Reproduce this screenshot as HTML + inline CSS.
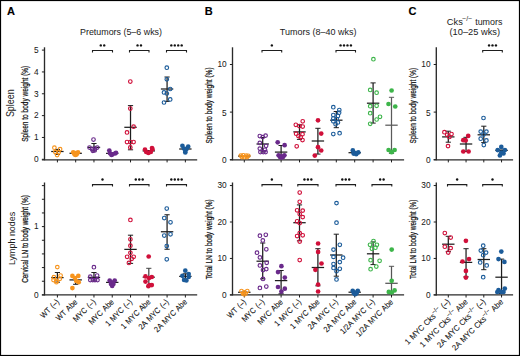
<!DOCTYPE html>
<html><head><meta charset="utf-8"><style>
html,body{margin:0;padding:0;background:#fff;width:520px;height:356px;overflow:hidden}
svg{display:block}
text{font-family:"Liberation Sans", sans-serif;stroke:#000;stroke-width:0.12px}
</style></head><body>
<svg width="520" height="356" viewBox="0 0 520 356">
<rect x="0.5" y="0.5" width="519" height="355" fill="none" stroke="#000" stroke-width="1.2"/>
<text x="7.00" y="15.00" font-size="11" text-anchor="start" font-weight="700" fill="#000" >A</text>
<text x="204.80" y="15.00" font-size="11" text-anchor="start" font-weight="700" fill="#000" >B</text>
<text x="408.50" y="15.00" font-size="11" text-anchor="start" font-weight="700" fill="#000" >C</text>
<text x="80.00" y="35.40" font-size="9.8" text-anchor="start" font-weight="400" fill="#1a1a1a" textLength="82" lengthAdjust="spacingAndGlyphs" style="stroke-width:0">Pretumors (5–6 wks)</text>
<text x="279.80" y="35.40" font-size="9.8" text-anchor="start" font-weight="400" fill="#1a1a1a" textLength="76.7" lengthAdjust="spacingAndGlyphs" style="stroke-width:0">Tumors (8–40 wks)</text>
<text x="446.80" y="24.90" font-size="9.8" text-anchor="start" font-weight="400" fill="#1a1a1a" textLength="16.0" lengthAdjust="spacingAndGlyphs" style="stroke-width:0">Cks</text>
<text x="462.20" y="21.40" font-size="6.4" text-anchor="start" font-weight="400" fill="#1a1a1a" textLength="10.0" lengthAdjust="spacingAndGlyphs" style="stroke-width:0">−/−</text>
<text x="502.40" y="24.90" font-size="9.8" text-anchor="end" font-weight="400" fill="#1a1a1a" textLength="27.2" lengthAdjust="spacingAndGlyphs" style="stroke-width:0">tumors</text>
<text x="449.50" y="35.40" font-size="9.8" text-anchor="start" font-weight="400" fill="#1a1a1a" textLength="50.5" lengthAdjust="spacingAndGlyphs" style="stroke-width:0">(10–25 wks)</text>
<text x="13.90" y="117.10" font-size="10.3" text-anchor="start" font-weight="400" fill="#1a1a1a" textLength="27.7" lengthAdjust="spacingAndGlyphs" transform="rotate(-90 13.90 117.10)" style="stroke-width:0">Spleen</text>
<text x="14.80" y="265.00" font-size="9.9" text-anchor="start" font-weight="400" fill="#1a1a1a" textLength="53.2" lengthAdjust="spacingAndGlyphs" transform="rotate(-90 14.80 265.00)" style="stroke-width:0">Lymph nodes</text>
<text x="28.20" y="141.80" font-size="8.3" text-anchor="start" font-weight="400" fill="#1a1a1a" textLength="76.1" lengthAdjust="spacingAndGlyphs" transform="rotate(-90 28.20 141.80)" style="stroke-width:0.22">Spleen to body weight (%)</text>
<text x="28.30" y="282.80" font-size="8.2" text-anchor="start" font-weight="400" fill="#1a1a1a" textLength="87.6" lengthAdjust="spacingAndGlyphs" transform="rotate(-90 28.30 282.80)" style="stroke-width:0.22">Cervical LN to body weight (%)</text>
<text x="211.60" y="143.60" font-size="8.4" text-anchor="start" font-weight="400" fill="#1a1a1a" textLength="76.2" lengthAdjust="spacingAndGlyphs" transform="rotate(-90 211.60 143.60)" style="stroke-width:0.22">Spleen to body weight (%)</text>
<text x="212.00" y="279.20" font-size="8.4" text-anchor="start" font-weight="400" fill="#1a1a1a" textLength="80" lengthAdjust="spacingAndGlyphs" transform="rotate(-90 212.00 279.20)" style="stroke-width:0.22">Total LN to body weight (%)</text>
<text x="416.00" y="143.40" font-size="8.4" text-anchor="start" font-weight="400" fill="#1a1a1a" textLength="75.5" lengthAdjust="spacingAndGlyphs" transform="rotate(-90 416.00 143.40)" style="stroke-width:0.22">Spleen to body weight (%)</text>
<text x="416.00" y="279.00" font-size="8.4" text-anchor="start" font-weight="400" fill="#1a1a1a" textLength="79.5" lengthAdjust="spacingAndGlyphs" transform="rotate(-90 416.00 279.00)" style="stroke-width:0.22">Total LN to body weight (%)</text>
<line x1="44.50" y1="47.30" x2="44.50" y2="160.30" stroke="#2a2a2a" stroke-width="1.35"/>
<line x1="41.90" y1="159.30" x2="44.50" y2="159.30" stroke="#1e1e1e" stroke-width="1"/>
<line x1="41.90" y1="137.46" x2="44.50" y2="137.46" stroke="#1e1e1e" stroke-width="1"/>
<line x1="41.90" y1="115.62" x2="44.50" y2="115.62" stroke="#1e1e1e" stroke-width="1"/>
<line x1="41.90" y1="93.78" x2="44.50" y2="93.78" stroke="#1e1e1e" stroke-width="1"/>
<line x1="41.90" y1="71.94" x2="44.50" y2="71.94" stroke="#1e1e1e" stroke-width="1"/>
<line x1="41.90" y1="50.10" x2="44.50" y2="50.10" stroke="#1e1e1e" stroke-width="1"/>
<text x="38.70" y="162.00" font-size="8.3" text-anchor="end" font-weight="400" fill="#1a1a1a" style="stroke-width:0.04">0</text>
<text x="38.70" y="140.00" font-size="8.3" text-anchor="end" font-weight="400" fill="#1a1a1a" style="stroke-width:0.04">1</text>
<text x="38.70" y="118.00" font-size="8.3" text-anchor="end" font-weight="400" fill="#1a1a1a" style="stroke-width:0.04">2</text>
<text x="38.70" y="97.00" font-size="8.3" text-anchor="end" font-weight="400" fill="#1a1a1a" style="stroke-width:0.04">3</text>
<text x="38.70" y="75.00" font-size="8.3" text-anchor="end" font-weight="400" fill="#1a1a1a" style="stroke-width:0.04">4</text>
<text x="38.70" y="53.00" font-size="8.3" text-anchor="end" font-weight="400" fill="#1a1a1a" style="stroke-width:0.04">5</text>
<line x1="41.90" y1="159.80" x2="197.20" y2="159.80" stroke="#2a2a2a" stroke-width="1.35"/>
<line x1="57.40" y1="159.80" x2="57.40" y2="162.40" stroke="#1e1e1e" stroke-width="1"/>
<line x1="75.68" y1="159.80" x2="75.68" y2="162.40" stroke="#1e1e1e" stroke-width="1"/>
<line x1="93.96" y1="159.80" x2="93.96" y2="162.40" stroke="#1e1e1e" stroke-width="1"/>
<line x1="112.24" y1="159.80" x2="112.24" y2="162.40" stroke="#1e1e1e" stroke-width="1"/>
<line x1="130.52" y1="159.80" x2="130.52" y2="162.40" stroke="#1e1e1e" stroke-width="1"/>
<line x1="148.80" y1="159.80" x2="148.80" y2="162.40" stroke="#1e1e1e" stroke-width="1"/>
<line x1="167.08" y1="159.80" x2="167.08" y2="162.40" stroke="#1e1e1e" stroke-width="1"/>
<line x1="185.36" y1="159.80" x2="185.36" y2="162.40" stroke="#1e1e1e" stroke-width="1"/>
<line x1="44.50" y1="182.50" x2="44.50" y2="295.40" stroke="#2a2a2a" stroke-width="1.35"/>
<line x1="41.90" y1="294.90" x2="44.50" y2="294.90" stroke="#1e1e1e" stroke-width="1"/>
<line x1="41.90" y1="281.24" x2="44.50" y2="281.24" stroke="#1e1e1e" stroke-width="1"/>
<line x1="41.90" y1="267.58" x2="44.50" y2="267.58" stroke="#1e1e1e" stroke-width="1"/>
<line x1="41.90" y1="253.92" x2="44.50" y2="253.92" stroke="#1e1e1e" stroke-width="1"/>
<line x1="41.90" y1="240.26" x2="44.50" y2="240.26" stroke="#1e1e1e" stroke-width="1"/>
<line x1="41.90" y1="226.60" x2="44.50" y2="226.60" stroke="#1e1e1e" stroke-width="1"/>
<line x1="41.90" y1="212.94" x2="44.50" y2="212.94" stroke="#1e1e1e" stroke-width="1"/>
<line x1="41.90" y1="199.28" x2="44.50" y2="199.28" stroke="#1e1e1e" stroke-width="1"/>
<line x1="41.90" y1="185.62" x2="44.50" y2="185.62" stroke="#1e1e1e" stroke-width="1"/>
<text x="38.70" y="298.00" font-size="8.3" text-anchor="end" font-weight="400" fill="#1a1a1a" style="stroke-width:0.04">0</text>
<text x="38.70" y="229.00" font-size="8.3" text-anchor="end" font-weight="400" fill="#1a1a1a" style="stroke-width:0.04">1</text>
<line x1="41.90" y1="294.90" x2="197.20" y2="294.90" stroke="#2a2a2a" stroke-width="1.35"/>
<line x1="57.40" y1="294.90" x2="57.40" y2="297.50" stroke="#1e1e1e" stroke-width="1"/>
<line x1="75.68" y1="294.90" x2="75.68" y2="297.50" stroke="#1e1e1e" stroke-width="1"/>
<line x1="93.96" y1="294.90" x2="93.96" y2="297.50" stroke="#1e1e1e" stroke-width="1"/>
<line x1="112.24" y1="294.90" x2="112.24" y2="297.50" stroke="#1e1e1e" stroke-width="1"/>
<line x1="130.52" y1="294.90" x2="130.52" y2="297.50" stroke="#1e1e1e" stroke-width="1"/>
<line x1="148.80" y1="294.90" x2="148.80" y2="297.50" stroke="#1e1e1e" stroke-width="1"/>
<line x1="167.08" y1="294.90" x2="167.08" y2="297.50" stroke="#1e1e1e" stroke-width="1"/>
<line x1="185.36" y1="294.90" x2="185.36" y2="297.50" stroke="#1e1e1e" stroke-width="1"/>
<line x1="232.50" y1="47.30" x2="232.50" y2="160.30" stroke="#2a2a2a" stroke-width="1.35"/>
<line x1="229.90" y1="159.60" x2="232.50" y2="159.60" stroke="#1e1e1e" stroke-width="1"/>
<line x1="229.90" y1="112.10" x2="232.50" y2="112.10" stroke="#1e1e1e" stroke-width="1"/>
<line x1="229.90" y1="64.50" x2="232.50" y2="64.50" stroke="#1e1e1e" stroke-width="1"/>
<text x="226.70" y="163.00" font-size="8.3" text-anchor="end" font-weight="400" fill="#1a1a1a" style="stroke-width:0.04">0</text>
<text x="226.70" y="116.00" font-size="8.3" text-anchor="end" font-weight="400" fill="#1a1a1a" style="stroke-width:0.04">5</text>
<text x="226.70" y="67.00" font-size="8.3" text-anchor="end" font-weight="400" fill="#1a1a1a" style="stroke-width:0.04">10</text>
<line x1="229.90" y1="159.80" x2="404.10" y2="159.80" stroke="#2a2a2a" stroke-width="1.35"/>
<line x1="244.30" y1="159.80" x2="244.30" y2="162.40" stroke="#1e1e1e" stroke-width="1"/>
<line x1="262.70" y1="159.80" x2="262.70" y2="162.40" stroke="#1e1e1e" stroke-width="1"/>
<line x1="281.10" y1="159.80" x2="281.10" y2="162.40" stroke="#1e1e1e" stroke-width="1"/>
<line x1="299.50" y1="159.80" x2="299.50" y2="162.40" stroke="#1e1e1e" stroke-width="1"/>
<line x1="317.90" y1="159.80" x2="317.90" y2="162.40" stroke="#1e1e1e" stroke-width="1"/>
<line x1="336.30" y1="159.80" x2="336.30" y2="162.40" stroke="#1e1e1e" stroke-width="1"/>
<line x1="354.70" y1="159.80" x2="354.70" y2="162.40" stroke="#1e1e1e" stroke-width="1"/>
<line x1="373.10" y1="159.80" x2="373.10" y2="162.40" stroke="#1e1e1e" stroke-width="1"/>
<line x1="391.50" y1="159.80" x2="391.50" y2="162.40" stroke="#1e1e1e" stroke-width="1"/>
<line x1="232.50" y1="182.50" x2="232.50" y2="295.40" stroke="#2a2a2a" stroke-width="1.35"/>
<line x1="229.90" y1="294.90" x2="232.50" y2="294.90" stroke="#1e1e1e" stroke-width="1"/>
<line x1="229.90" y1="258.45" x2="232.50" y2="258.45" stroke="#1e1e1e" stroke-width="1"/>
<line x1="229.90" y1="222.00" x2="232.50" y2="222.00" stroke="#1e1e1e" stroke-width="1"/>
<line x1="229.90" y1="185.55" x2="232.50" y2="185.55" stroke="#1e1e1e" stroke-width="1"/>
<text x="226.70" y="298.00" font-size="8.3" text-anchor="end" font-weight="400" fill="#1a1a1a" style="stroke-width:0.04">0</text>
<text x="226.70" y="261.00" font-size="8.3" text-anchor="end" font-weight="400" fill="#1a1a1a" style="stroke-width:0.04">10</text>
<text x="226.70" y="225.00" font-size="8.3" text-anchor="end" font-weight="400" fill="#1a1a1a" style="stroke-width:0.04">20</text>
<text x="226.70" y="188.00" font-size="8.3" text-anchor="end" font-weight="400" fill="#1a1a1a" style="stroke-width:0.04">30</text>
<line x1="229.90" y1="294.90" x2="404.10" y2="294.90" stroke="#2a2a2a" stroke-width="1.35"/>
<line x1="244.30" y1="294.90" x2="244.30" y2="297.50" stroke="#1e1e1e" stroke-width="1"/>
<line x1="262.70" y1="294.90" x2="262.70" y2="297.50" stroke="#1e1e1e" stroke-width="1"/>
<line x1="281.10" y1="294.90" x2="281.10" y2="297.50" stroke="#1e1e1e" stroke-width="1"/>
<line x1="299.50" y1="294.90" x2="299.50" y2="297.50" stroke="#1e1e1e" stroke-width="1"/>
<line x1="317.90" y1="294.90" x2="317.90" y2="297.50" stroke="#1e1e1e" stroke-width="1"/>
<line x1="336.30" y1="294.90" x2="336.30" y2="297.50" stroke="#1e1e1e" stroke-width="1"/>
<line x1="354.70" y1="294.90" x2="354.70" y2="297.50" stroke="#1e1e1e" stroke-width="1"/>
<line x1="373.10" y1="294.90" x2="373.10" y2="297.50" stroke="#1e1e1e" stroke-width="1"/>
<line x1="391.50" y1="294.90" x2="391.50" y2="297.50" stroke="#1e1e1e" stroke-width="1"/>
<line x1="436.30" y1="47.30" x2="436.30" y2="160.30" stroke="#2a2a2a" stroke-width="1.35"/>
<line x1="433.70" y1="159.60" x2="436.30" y2="159.60" stroke="#1e1e1e" stroke-width="1"/>
<line x1="433.70" y1="112.10" x2="436.30" y2="112.10" stroke="#1e1e1e" stroke-width="1"/>
<line x1="433.70" y1="64.50" x2="436.30" y2="64.50" stroke="#1e1e1e" stroke-width="1"/>
<text x="430.50" y="163.00" font-size="8.3" text-anchor="end" font-weight="400" fill="#1a1a1a" style="stroke-width:0.04">0</text>
<text x="430.50" y="116.00" font-size="8.3" text-anchor="end" font-weight="400" fill="#1a1a1a" style="stroke-width:0.04">5</text>
<text x="430.50" y="67.00" font-size="8.3" text-anchor="end" font-weight="400" fill="#1a1a1a" style="stroke-width:0.04">10</text>
<line x1="433.70" y1="159.80" x2="513.10" y2="159.80" stroke="#2a2a2a" stroke-width="1.35"/>
<line x1="448.30" y1="159.80" x2="448.30" y2="162.40" stroke="#1e1e1e" stroke-width="1"/>
<line x1="466.05" y1="159.80" x2="466.05" y2="162.40" stroke="#1e1e1e" stroke-width="1"/>
<line x1="483.80" y1="159.80" x2="483.80" y2="162.40" stroke="#1e1e1e" stroke-width="1"/>
<line x1="501.55" y1="159.80" x2="501.55" y2="162.40" stroke="#1e1e1e" stroke-width="1"/>
<line x1="436.30" y1="182.50" x2="436.30" y2="295.40" stroke="#2a2a2a" stroke-width="1.35"/>
<line x1="433.70" y1="294.90" x2="436.30" y2="294.90" stroke="#1e1e1e" stroke-width="1"/>
<line x1="433.70" y1="258.45" x2="436.30" y2="258.45" stroke="#1e1e1e" stroke-width="1"/>
<line x1="433.70" y1="222.00" x2="436.30" y2="222.00" stroke="#1e1e1e" stroke-width="1"/>
<line x1="433.70" y1="185.55" x2="436.30" y2="185.55" stroke="#1e1e1e" stroke-width="1"/>
<text x="430.50" y="298.00" font-size="8.3" text-anchor="end" font-weight="400" fill="#1a1a1a" style="stroke-width:0.04">0</text>
<text x="430.50" y="261.00" font-size="8.3" text-anchor="end" font-weight="400" fill="#1a1a1a" style="stroke-width:0.04">10</text>
<text x="430.50" y="225.00" font-size="8.3" text-anchor="end" font-weight="400" fill="#1a1a1a" style="stroke-width:0.04">20</text>
<text x="430.50" y="188.00" font-size="8.3" text-anchor="end" font-weight="400" fill="#1a1a1a" style="stroke-width:0.04">30</text>
<line x1="433.70" y1="294.90" x2="513.10" y2="294.90" stroke="#2a2a2a" stroke-width="1.35"/>
<line x1="448.30" y1="294.90" x2="448.30" y2="297.50" stroke="#1e1e1e" stroke-width="1"/>
<line x1="466.05" y1="294.90" x2="466.05" y2="297.50" stroke="#1e1e1e" stroke-width="1"/>
<line x1="483.80" y1="294.90" x2="483.80" y2="297.50" stroke="#1e1e1e" stroke-width="1"/>
<line x1="501.55" y1="294.90" x2="501.55" y2="297.50" stroke="#1e1e1e" stroke-width="1"/>
<text x="59.60" y="302.50" font-size="8.1" text-anchor="end" font-weight="400" fill="#1a1a1a" textLength="22.89" lengthAdjust="spacingAndGlyphs" transform="rotate(-45 59.60 302.50)" style="stroke-width:0.1;word-spacing:0.9px">WT (–)</text>
<text x="77.88" y="302.50" font-size="8.1" text-anchor="end" font-weight="400" fill="#1a1a1a" textLength="26.67" lengthAdjust="spacingAndGlyphs" transform="rotate(-45 77.88 302.50)" style="stroke-width:0.1;word-spacing:0.9px">WT Abe</text>
<text x="96.16" y="302.50" font-size="8.1" text-anchor="end" font-weight="400" fill="#1a1a1a" textLength="28.05" lengthAdjust="spacingAndGlyphs" transform="rotate(-45 96.16 302.50)" style="stroke-width:0.1;word-spacing:0.9px">MYC (–)</text>
<text x="114.44" y="302.50" font-size="8.1" text-anchor="end" font-weight="400" fill="#1a1a1a" textLength="31.84" lengthAdjust="spacingAndGlyphs" transform="rotate(-45 114.44 302.50)" style="stroke-width:0.1;word-spacing:0.9px">MYC Abe</text>
<text x="132.72" y="302.50" font-size="8.1" text-anchor="end" font-weight="400" fill="#1a1a1a" textLength="34.34" lengthAdjust="spacingAndGlyphs" transform="rotate(-45 132.72 302.50)" style="stroke-width:0.1;word-spacing:0.9px">1 MYC (–)</text>
<text x="151.00" y="302.50" font-size="8.1" text-anchor="end" font-weight="400" fill="#1a1a1a" textLength="38.13" lengthAdjust="spacingAndGlyphs" transform="rotate(-45 151.00 302.50)" style="stroke-width:0.1;word-spacing:0.9px">1 MYC Abe</text>
<text x="169.28" y="302.50" font-size="8.1" text-anchor="end" font-weight="400" fill="#1a1a1a" textLength="38.95" lengthAdjust="spacingAndGlyphs" transform="rotate(-45 169.28 302.50)" style="stroke-width:0.1;word-spacing:0.9px">2A MYC (–)</text>
<text x="187.56" y="302.50" font-size="8.1" text-anchor="end" font-weight="400" fill="#1a1a1a" textLength="42.74" lengthAdjust="spacingAndGlyphs" transform="rotate(-45 187.56 302.50)" style="stroke-width:0.1;word-spacing:0.9px">2A MYC Abe</text>
<text x="246.50" y="302.50" font-size="8.1" text-anchor="end" font-weight="400" fill="#1a1a1a" textLength="22.89" lengthAdjust="spacingAndGlyphs" transform="rotate(-45 246.50 302.50)" style="stroke-width:0.1;word-spacing:0.9px">WT (–)</text>
<text x="264.90" y="302.50" font-size="8.1" text-anchor="end" font-weight="400" fill="#1a1a1a" textLength="28.05" lengthAdjust="spacingAndGlyphs" transform="rotate(-45 264.90 302.50)" style="stroke-width:0.1;word-spacing:0.9px">MYC (–)</text>
<text x="283.30" y="302.50" font-size="8.1" text-anchor="end" font-weight="400" fill="#1a1a1a" textLength="31.84" lengthAdjust="spacingAndGlyphs" transform="rotate(-45 283.30 302.50)" style="stroke-width:0.1;word-spacing:0.9px">MYC Abe</text>
<text x="301.70" y="302.50" font-size="8.1" text-anchor="end" font-weight="400" fill="#1a1a1a" textLength="34.34" lengthAdjust="spacingAndGlyphs" transform="rotate(-45 301.70 302.50)" style="stroke-width:0.1;word-spacing:0.9px">1 MYC (–)</text>
<text x="320.10" y="302.50" font-size="8.1" text-anchor="end" font-weight="400" fill="#1a1a1a" textLength="38.13" lengthAdjust="spacingAndGlyphs" transform="rotate(-45 320.10 302.50)" style="stroke-width:0.1;word-spacing:0.9px">1 MYC Abe</text>
<text x="338.50" y="302.50" font-size="8.1" text-anchor="end" font-weight="400" fill="#1a1a1a" textLength="38.95" lengthAdjust="spacingAndGlyphs" transform="rotate(-45 338.50 302.50)" style="stroke-width:0.1;word-spacing:0.9px">2A MYC (–)</text>
<text x="356.90" y="302.50" font-size="8.1" text-anchor="end" font-weight="400" fill="#1a1a1a" textLength="42.74" lengthAdjust="spacingAndGlyphs" transform="rotate(-45 356.90 302.50)" style="stroke-width:0.1;word-spacing:0.9px">2A MYC Abe</text>
<text x="375.30" y="302.50" font-size="8.1" text-anchor="end" font-weight="400" fill="#1a1a1a" textLength="45.23" lengthAdjust="spacingAndGlyphs" transform="rotate(-45 375.30 302.50)" style="stroke-width:0.1;word-spacing:0.9px">1/2A MYC (–)</text>
<text x="393.70" y="302.50" font-size="8.1" text-anchor="end" font-weight="400" fill="#1a1a1a" textLength="49.02" lengthAdjust="spacingAndGlyphs" transform="rotate(-45 393.70 302.50)" style="stroke-width:0.1;word-spacing:0.9px">1/2A MYC Abe</text>
<g transform="translate(450.50 302.50) rotate(-45) scale(0.94 1)"><text x="0" y="0" font-size="8.1" text-anchor="end" fill="#1a1a1a" style="stroke-width:0.1;word-spacing:0.6px">1 MYC Cks<tspan font-size="6.2" dy="-3.2">−/−</tspan><tspan dy="3.2"> (–)</tspan></text></g>
<g transform="translate(468.25 302.50) rotate(-45) scale(0.94 1)"><text x="0" y="0" font-size="8.1" text-anchor="end" fill="#1a1a1a" style="stroke-width:0.1;word-spacing:0.6px">1 MYC Cks<tspan font-size="6.2" dy="-3.2">−/−</tspan><tspan dy="3.2"> Abe</tspan></text></g>
<g transform="translate(486.00 302.50) rotate(-45) scale(0.94 1)"><text x="0" y="0" font-size="8.1" text-anchor="end" fill="#1a1a1a" style="stroke-width:0.1;word-spacing:0.6px">2A MYC Cks<tspan font-size="6.2" dy="-3.2">−/−</tspan><tspan dy="3.2"> (–)</tspan></text></g>
<g transform="translate(503.75 302.50) rotate(-45) scale(0.94 1)"><text x="0" y="0" font-size="8.1" text-anchor="end" fill="#1a1a1a" style="stroke-width:0.1;word-spacing:0.6px">2A MYC Cks<tspan font-size="6.2" dy="-3.2">−/−</tspan><tspan dy="3.2"> Abe</tspan></text></g>
<path d="M92.50 52.50 V50.50 H112.50 V52.50" fill="none" stroke="#1e1e1e" stroke-width="1.1"/>
<circle cx="100.78" cy="45.40" r="1.2" fill="#111"/>
<circle cx="104.22" cy="45.40" r="1.2" fill="#111"/>
<path d="M129.50 52.50 V50.50 H149.00 V52.50" fill="none" stroke="#1e1e1e" stroke-width="1.1"/>
<circle cx="137.53" cy="45.40" r="1.2" fill="#111"/>
<circle cx="140.97" cy="45.40" r="1.2" fill="#111"/>
<path d="M166.50 52.50 V50.50 H186.50 V52.50" fill="none" stroke="#1e1e1e" stroke-width="1.1"/>
<circle cx="171.32" cy="45.40" r="1.2" fill="#111"/>
<circle cx="174.78" cy="45.40" r="1.2" fill="#111"/>
<circle cx="178.22" cy="45.40" r="1.2" fill="#111"/>
<circle cx="181.68" cy="45.40" r="1.2" fill="#111"/>
<path d="M262.00 52.50 V50.50 H281.70 V52.50" fill="none" stroke="#1e1e1e" stroke-width="1.1"/>
<circle cx="271.85" cy="45.40" r="1.2" fill="#111"/>
<path d="M336.00 52.50 V50.50 H355.50 V52.50" fill="none" stroke="#1e1e1e" stroke-width="1.1"/>
<circle cx="340.57" cy="45.40" r="1.2" fill="#111"/>
<circle cx="344.02" cy="45.40" r="1.2" fill="#111"/>
<circle cx="347.48" cy="45.40" r="1.2" fill="#111"/>
<circle cx="350.93" cy="45.40" r="1.2" fill="#111"/>
<path d="M482.70 52.50 V50.50 H502.30 V52.50" fill="none" stroke="#1e1e1e" stroke-width="1.1"/>
<circle cx="489.05" cy="45.40" r="1.2" fill="#111"/>
<circle cx="492.50" cy="45.40" r="1.2" fill="#111"/>
<circle cx="495.95" cy="45.40" r="1.2" fill="#111"/>
<path d="M92.50 186.60 V184.60 H112.50 V186.60" fill="none" stroke="#1e1e1e" stroke-width="1.1"/>
<circle cx="102.50" cy="179.50" r="1.2" fill="#111"/>
<path d="M129.50 186.60 V184.60 H149.00 V186.60" fill="none" stroke="#1e1e1e" stroke-width="1.1"/>
<circle cx="135.80" cy="179.50" r="1.2" fill="#111"/>
<circle cx="139.25" cy="179.50" r="1.2" fill="#111"/>
<circle cx="142.70" cy="179.50" r="1.2" fill="#111"/>
<path d="M166.50 186.60 V184.60 H186.50 V186.60" fill="none" stroke="#1e1e1e" stroke-width="1.1"/>
<circle cx="171.32" cy="179.50" r="1.2" fill="#111"/>
<circle cx="174.78" cy="179.50" r="1.2" fill="#111"/>
<circle cx="178.22" cy="179.50" r="1.2" fill="#111"/>
<circle cx="181.68" cy="179.50" r="1.2" fill="#111"/>
<path d="M262.00 186.60 V184.60 H281.70 V186.60" fill="none" stroke="#1e1e1e" stroke-width="1.1"/>
<circle cx="271.85" cy="179.50" r="1.2" fill="#111"/>
<path d="M297.80 186.60 V184.60 H318.00 V186.60" fill="none" stroke="#1e1e1e" stroke-width="1.1"/>
<circle cx="304.45" cy="179.50" r="1.2" fill="#111"/>
<circle cx="307.90" cy="179.50" r="1.2" fill="#111"/>
<circle cx="311.35" cy="179.50" r="1.2" fill="#111"/>
<path d="M336.00 186.60 V184.60 H355.50 V186.60" fill="none" stroke="#1e1e1e" stroke-width="1.1"/>
<circle cx="342.30" cy="179.50" r="1.2" fill="#111"/>
<circle cx="345.75" cy="179.50" r="1.2" fill="#111"/>
<circle cx="349.20" cy="179.50" r="1.2" fill="#111"/>
<path d="M372.00 186.60 V184.60 H391.80 V186.60" fill="none" stroke="#1e1e1e" stroke-width="1.1"/>
<circle cx="380.17" cy="179.50" r="1.2" fill="#111"/>
<circle cx="383.62" cy="179.50" r="1.2" fill="#111"/>
<path d="M447.50 186.60 V184.60 H466.80 V186.60" fill="none" stroke="#1e1e1e" stroke-width="1.1"/>
<circle cx="457.15" cy="179.50" r="1.2" fill="#111"/>
<path d="M482.70 186.60 V184.60 H502.30 V186.60" fill="none" stroke="#1e1e1e" stroke-width="1.1"/>
<circle cx="492.50" cy="179.50" r="1.2" fill="#111"/>
<line x1="57.40" y1="149.40" x2="57.40" y2="154.50" stroke="#1e1e1e" stroke-width="1.25"/>
<line x1="54.80" y1="149.40" x2="60.00" y2="149.40" stroke="#1e1e1e" stroke-width="1.0"/>
<line x1="54.80" y1="154.50" x2="60.00" y2="154.50" stroke="#1e1e1e" stroke-width="1.0"/>
<line x1="51.20" y1="151.50" x2="63.60" y2="151.50" stroke="#1e1e1e" stroke-width="1.25"/>
<circle cx="54.40" cy="147.70" r="1.8" fill="none" stroke="#F7941D" stroke-width="1.15"/>
<circle cx="60.10" cy="149.10" r="1.8" fill="none" stroke="#F7941D" stroke-width="1.15"/>
<circle cx="55.30" cy="152.10" r="1.8" fill="none" stroke="#F7941D" stroke-width="1.15"/>
<circle cx="58.60" cy="152.40" r="1.8" fill="none" stroke="#F7941D" stroke-width="1.15"/>
<circle cx="57.10" cy="155.00" r="1.8" fill="none" stroke="#F7941D" stroke-width="1.15"/>
<line x1="75.68" y1="153.00" x2="75.68" y2="153.60" stroke="#1e1e1e" stroke-width="1.25"/>
<line x1="73.08" y1="153.00" x2="78.28" y2="153.00" stroke="#1e1e1e" stroke-width="1.0"/>
<line x1="73.08" y1="153.60" x2="78.28" y2="153.60" stroke="#1e1e1e" stroke-width="1.0"/>
<line x1="69.48" y1="153.30" x2="81.88" y2="153.30" stroke="#1e1e1e" stroke-width="1.25"/>
<circle cx="73.20" cy="152.30" r="2.35" fill="#F7941D"/>
<circle cx="78.00" cy="152.30" r="2.35" fill="#F7941D"/>
<circle cx="75.60" cy="153.20" r="2.35" fill="#F7941D"/>
<circle cx="74.50" cy="154.30" r="2.35" fill="#F7941D"/>
<circle cx="76.70" cy="154.30" r="2.35" fill="#F7941D"/>
<circle cx="75.50" cy="155.00" r="2.35" fill="#F7941D"/>
<line x1="93.96" y1="143.50" x2="93.96" y2="151.00" stroke="#1e1e1e" stroke-width="1.25"/>
<line x1="91.36" y1="143.50" x2="96.56" y2="143.50" stroke="#1e1e1e" stroke-width="1.0"/>
<line x1="91.36" y1="151.00" x2="96.56" y2="151.00" stroke="#1e1e1e" stroke-width="1.0"/>
<line x1="87.76" y1="147.40" x2="100.16" y2="147.40" stroke="#1e1e1e" stroke-width="1.25"/>
<circle cx="93.50" cy="139.50" r="1.8" fill="none" stroke="#6A2A8B" stroke-width="1.15"/>
<circle cx="89.50" cy="147.50" r="1.8" fill="none" stroke="#6A2A8B" stroke-width="1.15"/>
<circle cx="97.20" cy="147.50" r="1.8" fill="none" stroke="#6A2A8B" stroke-width="1.15"/>
<circle cx="92.00" cy="149.00" r="1.8" fill="none" stroke="#6A2A8B" stroke-width="1.15"/>
<circle cx="95.00" cy="148.60" r="1.8" fill="none" stroke="#6A2A8B" stroke-width="1.15"/>
<circle cx="92.80" cy="150.80" r="1.8" fill="none" stroke="#6A2A8B" stroke-width="1.15"/>
<circle cx="94.60" cy="150.40" r="1.8" fill="none" stroke="#6A2A8B" stroke-width="1.15"/>
<line x1="112.24" y1="153.10" x2="112.24" y2="153.70" stroke="#1e1e1e" stroke-width="1.25"/>
<line x1="109.64" y1="153.10" x2="114.84" y2="153.10" stroke="#1e1e1e" stroke-width="1.0"/>
<line x1="109.64" y1="153.70" x2="114.84" y2="153.70" stroke="#1e1e1e" stroke-width="1.0"/>
<line x1="106.04" y1="153.40" x2="118.44" y2="153.40" stroke="#1e1e1e" stroke-width="1.25"/>
<circle cx="109.30" cy="150.60" r="2.35" fill="#6A2A8B"/>
<circle cx="110.00" cy="153.30" r="2.35" fill="#6A2A8B"/>
<circle cx="112.50" cy="154.30" r="2.35" fill="#6A2A8B"/>
<circle cx="115.00" cy="153.50" r="2.35" fill="#6A2A8B"/>
<circle cx="116.00" cy="152.80" r="2.35" fill="#6A2A8B"/>
<circle cx="111.50" cy="155.00" r="2.35" fill="#6A2A8B"/>
<line x1="130.52" y1="105.60" x2="130.52" y2="149.80" stroke="#1e1e1e" stroke-width="1.25"/>
<line x1="127.92" y1="105.60" x2="133.12" y2="105.60" stroke="#1e1e1e" stroke-width="1.0"/>
<line x1="127.92" y1="149.80" x2="133.12" y2="149.80" stroke="#1e1e1e" stroke-width="1.0"/>
<line x1="124.32" y1="127.30" x2="136.72" y2="127.30" stroke="#1e1e1e" stroke-width="1.25"/>
<circle cx="130.30" cy="81.60" r="1.8" fill="none" stroke="#D0103A" stroke-width="1.15"/>
<circle cx="130.30" cy="108.60" r="1.8" fill="none" stroke="#D0103A" stroke-width="1.15"/>
<circle cx="133.60" cy="126.70" r="1.8" fill="none" stroke="#D0103A" stroke-width="1.15"/>
<circle cx="127.00" cy="132.40" r="1.8" fill="none" stroke="#D0103A" stroke-width="1.15"/>
<circle cx="127.00" cy="142.00" r="1.8" fill="none" stroke="#D0103A" stroke-width="1.15"/>
<circle cx="130.30" cy="142.00" r="1.8" fill="none" stroke="#D0103A" stroke-width="1.15"/>
<circle cx="133.60" cy="142.00" r="1.8" fill="none" stroke="#D0103A" stroke-width="1.15"/>
<circle cx="130.30" cy="147.40" r="1.8" fill="none" stroke="#D0103A" stroke-width="1.15"/>
<line x1="148.80" y1="150.70" x2="148.80" y2="151.10" stroke="#1e1e1e" stroke-width="1.25"/>
<line x1="146.20" y1="150.70" x2="151.40" y2="150.70" stroke="#1e1e1e" stroke-width="1.0"/>
<line x1="146.20" y1="151.10" x2="151.40" y2="151.10" stroke="#1e1e1e" stroke-width="1.0"/>
<line x1="142.60" y1="150.90" x2="155.00" y2="150.90" stroke="#1e1e1e" stroke-width="1.25"/>
<circle cx="145.00" cy="149.50" r="2.35" fill="#D0103A"/>
<circle cx="146.20" cy="152.00" r="2.35" fill="#D0103A"/>
<circle cx="148.40" cy="152.90" r="2.35" fill="#D0103A"/>
<circle cx="150.80" cy="152.00" r="2.35" fill="#D0103A"/>
<circle cx="152.40" cy="149.20" r="2.35" fill="#D0103A"/>
<circle cx="152.00" cy="148.00" r="2.35" fill="#D0103A"/>
<line x1="167.08" y1="77.00" x2="167.08" y2="101.40" stroke="#1e1e1e" stroke-width="1.25"/>
<line x1="164.48" y1="77.00" x2="169.68" y2="77.00" stroke="#1e1e1e" stroke-width="1.0"/>
<line x1="164.48" y1="101.40" x2="169.68" y2="101.40" stroke="#1e1e1e" stroke-width="1.0"/>
<line x1="160.88" y1="89.00" x2="173.28" y2="89.00" stroke="#1e1e1e" stroke-width="1.25"/>
<circle cx="166.80" cy="67.70" r="1.8" fill="none" stroke="#1C5C9A" stroke-width="1.15"/>
<circle cx="166.80" cy="79.30" r="1.8" fill="none" stroke="#1C5C9A" stroke-width="1.15"/>
<circle cx="170.20" cy="89.00" r="1.8" fill="none" stroke="#1C5C9A" stroke-width="1.15"/>
<circle cx="164.00" cy="92.40" r="1.8" fill="none" stroke="#1C5C9A" stroke-width="1.15"/>
<circle cx="166.80" cy="93.50" r="1.8" fill="none" stroke="#1C5C9A" stroke-width="1.15"/>
<circle cx="170.20" cy="99.40" r="1.8" fill="none" stroke="#1C5C9A" stroke-width="1.15"/>
<circle cx="164.00" cy="102.50" r="1.8" fill="none" stroke="#1C5C9A" stroke-width="1.15"/>
<line x1="185.36" y1="148.80" x2="185.36" y2="149.20" stroke="#1e1e1e" stroke-width="1.25"/>
<line x1="182.76" y1="148.80" x2="187.96" y2="148.80" stroke="#1e1e1e" stroke-width="1.0"/>
<line x1="182.76" y1="149.20" x2="187.96" y2="149.20" stroke="#1e1e1e" stroke-width="1.0"/>
<line x1="179.16" y1="149.00" x2="191.56" y2="149.00" stroke="#1e1e1e" stroke-width="1.25"/>
<circle cx="182.40" cy="145.80" r="2.35" fill="#1C5C9A"/>
<circle cx="188.20" cy="146.70" r="2.35" fill="#1C5C9A"/>
<circle cx="184.00" cy="148.50" r="2.35" fill="#1C5C9A"/>
<circle cx="186.50" cy="149.00" r="2.35" fill="#1C5C9A"/>
<circle cx="185.30" cy="151.00" r="2.35" fill="#1C5C9A"/>
<circle cx="185.30" cy="152.40" r="2.35" fill="#1C5C9A"/>
<line x1="57.40" y1="272.50" x2="57.40" y2="282.20" stroke="#1e1e1e" stroke-width="1.25"/>
<line x1="54.80" y1="272.50" x2="60.00" y2="272.50" stroke="#1e1e1e" stroke-width="1.0"/>
<line x1="54.80" y1="282.20" x2="60.00" y2="282.20" stroke="#1e1e1e" stroke-width="1.0"/>
<line x1="51.20" y1="277.60" x2="63.60" y2="277.60" stroke="#1e1e1e" stroke-width="1.25"/>
<circle cx="57.30" cy="267.10" r="1.8" fill="none" stroke="#F7941D" stroke-width="1.15"/>
<circle cx="53.90" cy="277.20" r="1.8" fill="none" stroke="#F7941D" stroke-width="1.15"/>
<circle cx="60.60" cy="275.50" r="1.8" fill="none" stroke="#F7941D" stroke-width="1.15"/>
<circle cx="53.50" cy="280.10" r="1.8" fill="none" stroke="#F7941D" stroke-width="1.15"/>
<circle cx="56.40" cy="281.00" r="1.8" fill="none" stroke="#F7941D" stroke-width="1.15"/>
<circle cx="59.80" cy="278.80" r="1.8" fill="none" stroke="#F7941D" stroke-width="1.15"/>
<circle cx="56.40" cy="282.20" r="1.8" fill="none" stroke="#F7941D" stroke-width="1.15"/>
<line x1="75.68" y1="276.50" x2="75.68" y2="284.30" stroke="#1e1e1e" stroke-width="1.25"/>
<line x1="73.08" y1="276.50" x2="78.28" y2="276.50" stroke="#1e1e1e" stroke-width="1.0"/>
<line x1="73.08" y1="284.30" x2="78.28" y2="284.30" stroke="#1e1e1e" stroke-width="1.0"/>
<line x1="69.48" y1="279.90" x2="81.88" y2="279.90" stroke="#1e1e1e" stroke-width="1.25"/>
<circle cx="72.40" cy="275.90" r="2.35" fill="#F7941D"/>
<circle cx="78.30" cy="275.90" r="2.35" fill="#F7941D"/>
<circle cx="75.00" cy="278.00" r="2.35" fill="#F7941D"/>
<circle cx="76.20" cy="281.00" r="2.35" fill="#F7941D"/>
<circle cx="78.70" cy="282.20" r="2.35" fill="#F7941D"/>
<circle cx="72.40" cy="288.10" r="2.35" fill="#F7941D"/>
<line x1="93.96" y1="272.50" x2="93.96" y2="281.00" stroke="#1e1e1e" stroke-width="1.25"/>
<line x1="91.36" y1="272.50" x2="96.56" y2="272.50" stroke="#1e1e1e" stroke-width="1.0"/>
<line x1="91.36" y1="281.00" x2="96.56" y2="281.00" stroke="#1e1e1e" stroke-width="1.0"/>
<line x1="87.76" y1="277.40" x2="100.16" y2="277.40" stroke="#1e1e1e" stroke-width="1.25"/>
<circle cx="93.90" cy="267.20" r="1.8" fill="none" stroke="#6A2A8B" stroke-width="1.15"/>
<circle cx="90.30" cy="276.70" r="1.8" fill="none" stroke="#6A2A8B" stroke-width="1.15"/>
<circle cx="97.10" cy="275.50" r="1.8" fill="none" stroke="#6A2A8B" stroke-width="1.15"/>
<circle cx="90.30" cy="280.10" r="1.8" fill="none" stroke="#6A2A8B" stroke-width="1.15"/>
<circle cx="92.80" cy="280.10" r="1.8" fill="none" stroke="#6A2A8B" stroke-width="1.15"/>
<circle cx="95.00" cy="280.10" r="1.8" fill="none" stroke="#6A2A8B" stroke-width="1.15"/>
<circle cx="97.50" cy="280.10" r="1.8" fill="none" stroke="#6A2A8B" stroke-width="1.15"/>
<line x1="112.24" y1="282.10" x2="112.24" y2="282.70" stroke="#1e1e1e" stroke-width="1.25"/>
<line x1="109.64" y1="282.10" x2="114.84" y2="282.10" stroke="#1e1e1e" stroke-width="1.0"/>
<line x1="109.64" y1="282.70" x2="114.84" y2="282.70" stroke="#1e1e1e" stroke-width="1.0"/>
<line x1="106.04" y1="282.40" x2="118.44" y2="282.40" stroke="#1e1e1e" stroke-width="1.25"/>
<circle cx="109.70" cy="280.50" r="2.35" fill="#6A2A8B"/>
<circle cx="114.70" cy="280.50" r="2.35" fill="#6A2A8B"/>
<circle cx="112.20" cy="282.50" r="2.35" fill="#6A2A8B"/>
<circle cx="111.00" cy="284.00" r="2.35" fill="#6A2A8B"/>
<circle cx="113.40" cy="284.00" r="2.35" fill="#6A2A8B"/>
<circle cx="112.20" cy="286.00" r="2.35" fill="#6A2A8B"/>
<line x1="130.52" y1="235.20" x2="130.52" y2="263.40" stroke="#1e1e1e" stroke-width="1.25"/>
<line x1="127.92" y1="235.20" x2="133.12" y2="235.20" stroke="#1e1e1e" stroke-width="1.0"/>
<line x1="127.92" y1="263.40" x2="133.12" y2="263.40" stroke="#1e1e1e" stroke-width="1.0"/>
<line x1="124.32" y1="249.40" x2="136.72" y2="249.40" stroke="#1e1e1e" stroke-width="1.25"/>
<circle cx="130.40" cy="219.90" r="1.8" fill="none" stroke="#D0103A" stroke-width="1.15"/>
<circle cx="130.40" cy="239.30" r="1.8" fill="none" stroke="#D0103A" stroke-width="1.15"/>
<circle cx="130.40" cy="245.70" r="1.8" fill="none" stroke="#D0103A" stroke-width="1.15"/>
<circle cx="130.40" cy="252.80" r="1.8" fill="none" stroke="#D0103A" stroke-width="1.15"/>
<circle cx="127.10" cy="256.80" r="1.8" fill="none" stroke="#D0103A" stroke-width="1.15"/>
<circle cx="133.70" cy="256.80" r="1.8" fill="none" stroke="#D0103A" stroke-width="1.15"/>
<circle cx="131.70" cy="258.80" r="1.8" fill="none" stroke="#D0103A" stroke-width="1.15"/>
<circle cx="128.90" cy="262.90" r="1.8" fill="none" stroke="#D0103A" stroke-width="1.15"/>
<line x1="148.80" y1="268.30" x2="148.80" y2="286.20" stroke="#444" stroke-width="1.25"/>
<line x1="146.20" y1="268.30" x2="151.40" y2="268.30" stroke="#444" stroke-width="1.0"/>
<line x1="146.20" y1="286.20" x2="151.40" y2="286.20" stroke="#444" stroke-width="1.0"/>
<line x1="142.60" y1="277.20" x2="155.00" y2="277.20" stroke="#444" stroke-width="1.25"/>
<circle cx="148.70" cy="256.50" r="2.35" fill="#D0103A"/>
<circle cx="145.50" cy="276.40" r="2.35" fill="#D0103A"/>
<circle cx="151.80" cy="277.00" r="2.35" fill="#D0103A"/>
<circle cx="149.00" cy="278.10" r="2.35" fill="#D0103A"/>
<circle cx="145.50" cy="281.60" r="2.35" fill="#D0103A"/>
<circle cx="149.50" cy="285.10" r="2.35" fill="#D0103A"/>
<circle cx="151.80" cy="285.10" r="2.35" fill="#D0103A"/>
<circle cx="148.40" cy="286.20" r="2.35" fill="#D0103A"/>
<line x1="167.08" y1="214.75" x2="167.08" y2="249.25" stroke="#1e1e1e" stroke-width="1.25"/>
<line x1="164.48" y1="214.75" x2="169.68" y2="214.75" stroke="#1e1e1e" stroke-width="1.0"/>
<line x1="164.48" y1="249.25" x2="169.68" y2="249.25" stroke="#1e1e1e" stroke-width="1.0"/>
<line x1="160.88" y1="231.75" x2="173.28" y2="231.75" stroke="#1e1e1e" stroke-width="1.25"/>
<circle cx="166.75" cy="208.50" r="1.8" fill="none" stroke="#1C5C9A" stroke-width="1.15"/>
<circle cx="164.25" cy="218.00" r="1.8" fill="none" stroke="#1C5C9A" stroke-width="1.15"/>
<circle cx="170.50" cy="222.25" r="1.8" fill="none" stroke="#1C5C9A" stroke-width="1.15"/>
<circle cx="164.25" cy="235.50" r="1.8" fill="none" stroke="#1C5C9A" stroke-width="1.15"/>
<circle cx="170.50" cy="234.25" r="1.8" fill="none" stroke="#1C5C9A" stroke-width="1.15"/>
<circle cx="166.75" cy="246.00" r="1.8" fill="none" stroke="#1C5C9A" stroke-width="1.15"/>
<circle cx="166.75" cy="259.25" r="1.8" fill="none" stroke="#1C5C9A" stroke-width="1.15"/>
<line x1="185.36" y1="273.80" x2="185.36" y2="279.00" stroke="#1e1e1e" stroke-width="1.25"/>
<line x1="182.76" y1="273.80" x2="187.96" y2="273.80" stroke="#1e1e1e" stroke-width="1.0"/>
<line x1="182.76" y1="279.00" x2="187.96" y2="279.00" stroke="#1e1e1e" stroke-width="1.0"/>
<line x1="179.16" y1="276.40" x2="191.56" y2="276.40" stroke="#1e1e1e" stroke-width="1.25"/>
<circle cx="185.30" cy="270.70" r="2.35" fill="#1C5C9A"/>
<circle cx="182.40" cy="275.80" r="2.35" fill="#1C5C9A"/>
<circle cx="188.70" cy="274.10" r="2.35" fill="#1C5C9A"/>
<circle cx="188.70" cy="277.00" r="2.35" fill="#1C5C9A"/>
<circle cx="184.10" cy="279.90" r="2.35" fill="#1C5C9A"/>
<circle cx="186.40" cy="280.50" r="2.35" fill="#1C5C9A"/>
<line x1="244.30" y1="156.00" x2="244.30" y2="156.20" stroke="#1e1e1e" stroke-width="1.25"/>
<line x1="241.70" y1="156.00" x2="246.90" y2="156.00" stroke="#1e1e1e" stroke-width="1.0"/>
<line x1="241.70" y1="156.20" x2="246.90" y2="156.20" stroke="#1e1e1e" stroke-width="1.0"/>
<line x1="238.10" y1="156.10" x2="250.50" y2="156.10" stroke="#1e1e1e" stroke-width="1.25"/>
<circle cx="240.80" cy="155.60" r="1.8" fill="none" stroke="#F7941D" stroke-width="1.15"/>
<circle cx="243.30" cy="155.30" r="1.8" fill="none" stroke="#F7941D" stroke-width="1.15"/>
<circle cx="246.30" cy="155.50" r="1.8" fill="none" stroke="#F7941D" stroke-width="1.15"/>
<circle cx="248.30" cy="155.80" r="1.8" fill="none" stroke="#F7941D" stroke-width="1.15"/>
<circle cx="244.30" cy="157.20" r="1.8" fill="none" stroke="#F7941D" stroke-width="1.15"/>
<circle cx="242.00" cy="157.00" r="1.8" fill="none" stroke="#F7941D" stroke-width="1.15"/>
<circle cx="247.00" cy="157.00" r="1.8" fill="none" stroke="#F7941D" stroke-width="1.15"/>
<line x1="262.70" y1="137.50" x2="262.70" y2="152.00" stroke="#1e1e1e" stroke-width="1.25"/>
<line x1="260.10" y1="137.50" x2="265.30" y2="137.50" stroke="#1e1e1e" stroke-width="1.0"/>
<line x1="260.10" y1="152.00" x2="265.30" y2="152.00" stroke="#1e1e1e" stroke-width="1.0"/>
<line x1="256.50" y1="144.00" x2="268.90" y2="144.00" stroke="#1e1e1e" stroke-width="1.25"/>
<circle cx="259.80" cy="136.00" r="1.8" fill="none" stroke="#6A2A8B" stroke-width="1.15"/>
<circle cx="265.60" cy="135.60" r="1.8" fill="none" stroke="#6A2A8B" stroke-width="1.15"/>
<circle cx="262.70" cy="137.10" r="1.8" fill="none" stroke="#6A2A8B" stroke-width="1.15"/>
<circle cx="259.80" cy="142.90" r="1.8" fill="none" stroke="#6A2A8B" stroke-width="1.15"/>
<circle cx="266.10" cy="145.80" r="1.8" fill="none" stroke="#6A2A8B" stroke-width="1.15"/>
<circle cx="259.80" cy="148.60" r="1.8" fill="none" stroke="#6A2A8B" stroke-width="1.15"/>
<circle cx="265.00" cy="149.80" r="1.8" fill="none" stroke="#6A2A8B" stroke-width="1.15"/>
<circle cx="260.40" cy="152.10" r="1.8" fill="none" stroke="#6A2A8B" stroke-width="1.15"/>
<circle cx="263.30" cy="152.10" r="1.8" fill="none" stroke="#6A2A8B" stroke-width="1.15"/>
<circle cx="265.60" cy="152.10" r="1.8" fill="none" stroke="#6A2A8B" stroke-width="1.15"/>
<line x1="281.10" y1="145.50" x2="281.10" y2="156.00" stroke="#1e1e1e" stroke-width="1.25"/>
<line x1="278.50" y1="145.50" x2="283.70" y2="145.50" stroke="#1e1e1e" stroke-width="1.0"/>
<line x1="278.50" y1="156.00" x2="283.70" y2="156.00" stroke="#1e1e1e" stroke-width="1.0"/>
<line x1="274.90" y1="152.10" x2="287.30" y2="152.10" stroke="#1e1e1e" stroke-width="1.25"/>
<circle cx="277.70" cy="142.30" r="2.35" fill="#6A2A8B"/>
<circle cx="284.60" cy="145.20" r="2.35" fill="#6A2A8B"/>
<circle cx="278.60" cy="155.30" r="2.35" fill="#6A2A8B"/>
<circle cx="284.40" cy="155.30" r="2.35" fill="#6A2A8B"/>
<circle cx="281.50" cy="156.30" r="2.35" fill="#6A2A8B"/>
<circle cx="280.00" cy="157.00" r="2.35" fill="#6A2A8B"/>
<circle cx="283.00" cy="157.00" r="2.35" fill="#6A2A8B"/>
<circle cx="281.50" cy="157.60" r="2.35" fill="#6A2A8B"/>
<line x1="299.50" y1="124.80" x2="299.50" y2="139.40" stroke="#1e1e1e" stroke-width="1.25"/>
<line x1="296.90" y1="124.80" x2="302.10" y2="124.80" stroke="#1e1e1e" stroke-width="1.0"/>
<line x1="296.90" y1="139.40" x2="302.10" y2="139.40" stroke="#1e1e1e" stroke-width="1.0"/>
<line x1="293.30" y1="131.90" x2="305.70" y2="131.90" stroke="#1e1e1e" stroke-width="1.25"/>
<circle cx="302.70" cy="121.30" r="1.8" fill="none" stroke="#D0103A" stroke-width="1.15"/>
<circle cx="295.80" cy="124.80" r="1.8" fill="none" stroke="#D0103A" stroke-width="1.15"/>
<circle cx="302.70" cy="126.50" r="1.8" fill="none" stroke="#D0103A" stroke-width="1.15"/>
<circle cx="299.30" cy="126.00" r="1.8" fill="none" stroke="#D0103A" stroke-width="1.15"/>
<circle cx="296.10" cy="133.70" r="1.8" fill="none" stroke="#D0103A" stroke-width="1.15"/>
<circle cx="302.50" cy="134.20" r="1.8" fill="none" stroke="#D0103A" stroke-width="1.15"/>
<circle cx="298.40" cy="136.00" r="1.8" fill="none" stroke="#D0103A" stroke-width="1.15"/>
<circle cx="300.70" cy="137.10" r="1.8" fill="none" stroke="#D0103A" stroke-width="1.15"/>
<circle cx="302.50" cy="140.00" r="1.8" fill="none" stroke="#D0103A" stroke-width="1.15"/>
<circle cx="296.70" cy="146.30" r="1.8" fill="none" stroke="#D0103A" stroke-width="1.15"/>
<line x1="317.90" y1="128.30" x2="317.90" y2="154.10" stroke="#1e1e1e" stroke-width="1.25"/>
<line x1="315.30" y1="128.30" x2="320.50" y2="128.30" stroke="#1e1e1e" stroke-width="1.0"/>
<line x1="315.30" y1="154.10" x2="320.50" y2="154.10" stroke="#1e1e1e" stroke-width="1.0"/>
<line x1="311.70" y1="141.00" x2="324.10" y2="141.00" stroke="#1e1e1e" stroke-width="1.25"/>
<circle cx="318.00" cy="120.30" r="2.35" fill="#D0103A"/>
<circle cx="321.20" cy="133.60" r="2.35" fill="#D0103A"/>
<circle cx="318.00" cy="147.20" r="2.35" fill="#D0103A"/>
<circle cx="321.20" cy="150.50" r="2.35" fill="#D0103A"/>
<circle cx="314.80" cy="155.60" r="2.35" fill="#D0103A"/>
<line x1="336.30" y1="111.50" x2="336.30" y2="127.70" stroke="#1e1e1e" stroke-width="1.25"/>
<line x1="333.70" y1="111.50" x2="338.90" y2="111.50" stroke="#1e1e1e" stroke-width="1.0"/>
<line x1="333.70" y1="127.70" x2="338.90" y2="127.70" stroke="#1e1e1e" stroke-width="1.0"/>
<line x1="330.10" y1="120.20" x2="342.50" y2="120.20" stroke="#1e1e1e" stroke-width="1.25"/>
<circle cx="333.30" cy="107.20" r="1.8" fill="none" stroke="#1C5C9A" stroke-width="1.15"/>
<circle cx="339.30" cy="110.10" r="1.8" fill="none" stroke="#1C5C9A" stroke-width="1.15"/>
<circle cx="339.10" cy="112.70" r="1.8" fill="none" stroke="#1C5C9A" stroke-width="1.15"/>
<circle cx="333.30" cy="115.00" r="1.8" fill="none" stroke="#1C5C9A" stroke-width="1.15"/>
<circle cx="337.90" cy="115.90" r="1.8" fill="none" stroke="#1C5C9A" stroke-width="1.15"/>
<circle cx="333.30" cy="118.50" r="1.8" fill="none" stroke="#1C5C9A" stroke-width="1.15"/>
<circle cx="336.70" cy="119.00" r="1.8" fill="none" stroke="#1C5C9A" stroke-width="1.15"/>
<circle cx="333.30" cy="121.30" r="1.8" fill="none" stroke="#1C5C9A" stroke-width="1.15"/>
<circle cx="337.90" cy="122.50" r="1.8" fill="none" stroke="#1C5C9A" stroke-width="1.15"/>
<circle cx="335.60" cy="124.20" r="1.8" fill="none" stroke="#1C5C9A" stroke-width="1.15"/>
<circle cx="333.30" cy="134.00" r="1.8" fill="none" stroke="#1C5C9A" stroke-width="1.15"/>
<circle cx="339.60" cy="133.20" r="1.8" fill="none" stroke="#1C5C9A" stroke-width="1.15"/>
<line x1="354.70" y1="152.50" x2="354.70" y2="152.90" stroke="#1e1e1e" stroke-width="1.25"/>
<line x1="352.10" y1="152.50" x2="357.30" y2="152.50" stroke="#1e1e1e" stroke-width="1.0"/>
<line x1="352.10" y1="152.90" x2="357.30" y2="152.90" stroke="#1e1e1e" stroke-width="1.0"/>
<line x1="348.50" y1="152.70" x2="360.90" y2="152.70" stroke="#1e1e1e" stroke-width="1.25"/>
<circle cx="352.80" cy="150.40" r="2.35" fill="#1C5C9A"/>
<circle cx="355.20" cy="153.00" r="2.35" fill="#1C5C9A"/>
<circle cx="358.30" cy="152.40" r="2.35" fill="#1C5C9A"/>
<circle cx="356.20" cy="154.20" r="2.35" fill="#1C5C9A"/>
<circle cx="353.60" cy="153.60" r="2.35" fill="#1C5C9A"/>
<line x1="373.10" y1="82.90" x2="373.10" y2="123.10" stroke="#1e1e1e" stroke-width="1.25"/>
<line x1="370.50" y1="82.90" x2="375.70" y2="82.90" stroke="#1e1e1e" stroke-width="1.0"/>
<line x1="370.50" y1="123.10" x2="375.70" y2="123.10" stroke="#1e1e1e" stroke-width="1.0"/>
<line x1="366.90" y1="103.20" x2="379.30" y2="103.20" stroke="#1e1e1e" stroke-width="1.25"/>
<circle cx="373.40" cy="59.20" r="1.8" fill="none" stroke="#3DB54A" stroke-width="1.15"/>
<circle cx="370.20" cy="89.90" r="1.8" fill="none" stroke="#3DB54A" stroke-width="1.15"/>
<circle cx="376.60" cy="92.70" r="1.8" fill="none" stroke="#3DB54A" stroke-width="1.15"/>
<circle cx="370.20" cy="106.20" r="1.8" fill="none" stroke="#3DB54A" stroke-width="1.15"/>
<circle cx="376.60" cy="105.80" r="1.8" fill="none" stroke="#3DB54A" stroke-width="1.15"/>
<circle cx="370.20" cy="113.20" r="1.8" fill="none" stroke="#3DB54A" stroke-width="1.15"/>
<circle cx="380.00" cy="116.80" r="1.8" fill="none" stroke="#3DB54A" stroke-width="1.15"/>
<circle cx="376.60" cy="119.50" r="1.8" fill="none" stroke="#3DB54A" stroke-width="1.15"/>
<circle cx="370.20" cy="123.80" r="1.8" fill="none" stroke="#3DB54A" stroke-width="1.15"/>
<line x1="391.50" y1="97.30" x2="391.50" y2="153.40" stroke="#5a5a5a" stroke-width="1.25"/>
<line x1="388.90" y1="97.30" x2="394.10" y2="97.30" stroke="#5a5a5a" stroke-width="1.0"/>
<line x1="388.90" y1="153.40" x2="394.10" y2="153.40" stroke="#5a5a5a" stroke-width="1.0"/>
<line x1="385.30" y1="125.20" x2="397.70" y2="125.20" stroke="#5a5a5a" stroke-width="1.25"/>
<circle cx="391.60" cy="90.50" r="2.35" fill="#3DB54A"/>
<circle cx="388.50" cy="104.00" r="2.35" fill="#3DB54A"/>
<circle cx="395.25" cy="106.50" r="2.35" fill="#3DB54A"/>
<circle cx="388.60" cy="150.00" r="2.35" fill="#3DB54A"/>
<circle cx="394.60" cy="150.00" r="2.35" fill="#3DB54A"/>
<circle cx="391.60" cy="152.20" r="2.35" fill="#3DB54A"/>
<line x1="244.30" y1="292.20" x2="244.30" y2="292.40" stroke="#1e1e1e" stroke-width="1.25"/>
<line x1="241.70" y1="292.20" x2="246.90" y2="292.20" stroke="#1e1e1e" stroke-width="1.0"/>
<line x1="241.70" y1="292.40" x2="246.90" y2="292.40" stroke="#1e1e1e" stroke-width="1.0"/>
<line x1="238.10" y1="292.30" x2="250.50" y2="292.30" stroke="#1e1e1e" stroke-width="1.25"/>
<circle cx="241.50" cy="291.00" r="1.8" fill="none" stroke="#F7941D" stroke-width="1.15"/>
<circle cx="247.30" cy="291.00" r="1.8" fill="none" stroke="#F7941D" stroke-width="1.15"/>
<circle cx="244.30" cy="292.30" r="1.8" fill="none" stroke="#F7941D" stroke-width="1.15"/>
<circle cx="243.00" cy="293.50" r="1.8" fill="none" stroke="#F7941D" stroke-width="1.15"/>
<circle cx="245.60" cy="293.50" r="1.8" fill="none" stroke="#F7941D" stroke-width="1.15"/>
<circle cx="244.30" cy="294.30" r="1.8" fill="none" stroke="#F7941D" stroke-width="1.15"/>
<line x1="262.70" y1="243.00" x2="262.70" y2="278.90" stroke="#1e1e1e" stroke-width="1.25"/>
<line x1="260.10" y1="243.00" x2="265.30" y2="243.00" stroke="#1e1e1e" stroke-width="1.0"/>
<line x1="260.10" y1="278.90" x2="265.30" y2="278.90" stroke="#1e1e1e" stroke-width="1.0"/>
<line x1="256.50" y1="261.20" x2="268.90" y2="261.20" stroke="#1e1e1e" stroke-width="1.25"/>
<circle cx="259.90" cy="235.70" r="1.8" fill="none" stroke="#6A2A8B" stroke-width="1.15"/>
<circle cx="265.80" cy="234.80" r="1.8" fill="none" stroke="#6A2A8B" stroke-width="1.15"/>
<circle cx="262.80" cy="240.40" r="1.8" fill="none" stroke="#6A2A8B" stroke-width="1.15"/>
<circle cx="266.30" cy="249.30" r="1.8" fill="none" stroke="#6A2A8B" stroke-width="1.15"/>
<circle cx="257.00" cy="252.70" r="1.8" fill="none" stroke="#6A2A8B" stroke-width="1.15"/>
<circle cx="259.90" cy="257.40" r="1.8" fill="none" stroke="#6A2A8B" stroke-width="1.15"/>
<circle cx="259.90" cy="265.40" r="1.8" fill="none" stroke="#6A2A8B" stroke-width="1.15"/>
<circle cx="266.70" cy="262.80" r="1.8" fill="none" stroke="#6A2A8B" stroke-width="1.15"/>
<circle cx="263.00" cy="270.10" r="1.8" fill="none" stroke="#6A2A8B" stroke-width="1.15"/>
<circle cx="266.30" cy="269.10" r="1.8" fill="none" stroke="#6A2A8B" stroke-width="1.15"/>
<circle cx="263.00" cy="278.90" r="1.8" fill="none" stroke="#6A2A8B" stroke-width="1.15"/>
<circle cx="259.90" cy="287.90" r="1.8" fill="none" stroke="#6A2A8B" stroke-width="1.15"/>
<circle cx="266.30" cy="286.50" r="1.8" fill="none" stroke="#6A2A8B" stroke-width="1.15"/>
<line x1="281.10" y1="270.50" x2="281.10" y2="293.80" stroke="#1e1e1e" stroke-width="1.25"/>
<line x1="278.50" y1="270.50" x2="283.70" y2="270.50" stroke="#1e1e1e" stroke-width="1.0"/>
<line x1="278.50" y1="293.80" x2="283.70" y2="293.80" stroke="#1e1e1e" stroke-width="1.0"/>
<line x1="274.90" y1="280.60" x2="287.30" y2="280.60" stroke="#1e1e1e" stroke-width="1.25"/>
<circle cx="281.40" cy="266.20" r="2.35" fill="#6A2A8B"/>
<circle cx="278.00" cy="272.10" r="2.35" fill="#6A2A8B"/>
<circle cx="284.80" cy="277.60" r="2.35" fill="#6A2A8B"/>
<circle cx="278.00" cy="287.00" r="2.35" fill="#6A2A8B"/>
<circle cx="284.80" cy="288.70" r="2.35" fill="#6A2A8B"/>
<circle cx="281.40" cy="291.60" r="2.35" fill="#6A2A8B"/>
<line x1="299.50" y1="204.90" x2="299.50" y2="240.80" stroke="#1e1e1e" stroke-width="1.25"/>
<line x1="296.90" y1="204.90" x2="302.10" y2="204.90" stroke="#1e1e1e" stroke-width="1.0"/>
<line x1="296.90" y1="240.80" x2="302.10" y2="240.80" stroke="#1e1e1e" stroke-width="1.0"/>
<line x1="293.30" y1="222.70" x2="305.70" y2="222.70" stroke="#1e1e1e" stroke-width="1.25"/>
<circle cx="299.70" cy="192.50" r="1.8" fill="none" stroke="#D0103A" stroke-width="1.15"/>
<circle cx="299.70" cy="201.80" r="1.8" fill="none" stroke="#D0103A" stroke-width="1.15"/>
<circle cx="297.10" cy="210.30" r="1.8" fill="none" stroke="#D0103A" stroke-width="1.15"/>
<circle cx="302.70" cy="210.60" r="1.8" fill="none" stroke="#D0103A" stroke-width="1.15"/>
<circle cx="299.70" cy="214.00" r="1.8" fill="none" stroke="#D0103A" stroke-width="1.15"/>
<circle cx="302.70" cy="217.10" r="1.8" fill="none" stroke="#D0103A" stroke-width="1.15"/>
<circle cx="297.10" cy="221.30" r="1.8" fill="none" stroke="#D0103A" stroke-width="1.15"/>
<circle cx="299.70" cy="223.00" r="1.8" fill="none" stroke="#D0103A" stroke-width="1.15"/>
<circle cx="299.70" cy="233.10" r="1.8" fill="none" stroke="#D0103A" stroke-width="1.15"/>
<circle cx="297.10" cy="236.00" r="1.8" fill="none" stroke="#D0103A" stroke-width="1.15"/>
<circle cx="302.70" cy="235.30" r="1.8" fill="none" stroke="#D0103A" stroke-width="1.15"/>
<circle cx="299.70" cy="241.60" r="1.8" fill="none" stroke="#D0103A" stroke-width="1.15"/>
<circle cx="299.70" cy="260.00" r="1.8" fill="none" stroke="#D0103A" stroke-width="1.15"/>
<line x1="317.90" y1="248.70" x2="317.90" y2="285.80" stroke="#1e1e1e" stroke-width="1.25"/>
<line x1="315.30" y1="248.70" x2="320.50" y2="248.70" stroke="#1e1e1e" stroke-width="1.0"/>
<line x1="315.30" y1="285.80" x2="320.50" y2="285.80" stroke="#1e1e1e" stroke-width="1.0"/>
<line x1="311.70" y1="267.50" x2="324.10" y2="267.50" stroke="#1e1e1e" stroke-width="1.25"/>
<circle cx="318.10" cy="243.50" r="2.35" fill="#D0103A"/>
<circle cx="318.10" cy="251.90" r="2.35" fill="#D0103A"/>
<circle cx="321.50" cy="263.50" r="2.35" fill="#D0103A"/>
<circle cx="315.40" cy="269.80" r="2.35" fill="#D0103A"/>
<circle cx="318.10" cy="284.60" r="2.35" fill="#D0103A"/>
<circle cx="318.10" cy="291.50" r="2.35" fill="#D0103A"/>
<line x1="336.30" y1="234.20" x2="336.30" y2="276.20" stroke="#1e1e1e" stroke-width="1.25"/>
<line x1="333.70" y1="234.20" x2="338.90" y2="234.20" stroke="#1e1e1e" stroke-width="1.0"/>
<line x1="333.70" y1="276.20" x2="338.90" y2="276.20" stroke="#1e1e1e" stroke-width="1.0"/>
<line x1="330.10" y1="255.00" x2="342.50" y2="255.00" stroke="#1e1e1e" stroke-width="1.25"/>
<circle cx="336.50" cy="203.10" r="1.8" fill="none" stroke="#1C5C9A" stroke-width="1.15"/>
<circle cx="336.50" cy="222.70" r="1.8" fill="none" stroke="#1C5C9A" stroke-width="1.15"/>
<circle cx="339.80" cy="244.80" r="1.8" fill="none" stroke="#1C5C9A" stroke-width="1.15"/>
<circle cx="333.50" cy="249.60" r="1.8" fill="none" stroke="#1C5C9A" stroke-width="1.15"/>
<circle cx="333.50" cy="256.90" r="1.8" fill="none" stroke="#1C5C9A" stroke-width="1.15"/>
<circle cx="343.10" cy="257.70" r="1.8" fill="none" stroke="#1C5C9A" stroke-width="1.15"/>
<circle cx="339.80" cy="262.10" r="1.8" fill="none" stroke="#1C5C9A" stroke-width="1.15"/>
<circle cx="333.50" cy="264.00" r="1.8" fill="none" stroke="#1C5C9A" stroke-width="1.15"/>
<circle cx="333.50" cy="267.90" r="1.8" fill="none" stroke="#1C5C9A" stroke-width="1.15"/>
<circle cx="339.80" cy="268.80" r="1.8" fill="none" stroke="#1C5C9A" stroke-width="1.15"/>
<circle cx="336.50" cy="271.20" r="1.8" fill="none" stroke="#1C5C9A" stroke-width="1.15"/>
<circle cx="336.50" cy="279.40" r="1.8" fill="none" stroke="#1C5C9A" stroke-width="1.15"/>
<line x1="354.70" y1="292.10" x2="354.70" y2="292.30" stroke="#1e1e1e" stroke-width="1.25"/>
<line x1="352.10" y1="292.10" x2="357.30" y2="292.10" stroke="#1e1e1e" stroke-width="1.0"/>
<line x1="352.10" y1="292.30" x2="357.30" y2="292.30" stroke="#1e1e1e" stroke-width="1.0"/>
<line x1="348.50" y1="292.20" x2="360.90" y2="292.20" stroke="#1e1e1e" stroke-width="1.25"/>
<circle cx="352.70" cy="290.80" r="2.35" fill="#1C5C9A"/>
<circle cx="357.80" cy="290.80" r="2.35" fill="#1C5C9A"/>
<circle cx="355.20" cy="292.50" r="2.35" fill="#1C5C9A"/>
<circle cx="354.00" cy="293.30" r="2.35" fill="#1C5C9A"/>
<circle cx="356.50" cy="293.30" r="2.35" fill="#1C5C9A"/>
<circle cx="355.20" cy="294.20" r="2.35" fill="#1C5C9A"/>
<line x1="373.10" y1="241.90" x2="373.10" y2="264.60" stroke="#1e1e1e" stroke-width="1.25"/>
<line x1="370.50" y1="241.90" x2="375.70" y2="241.90" stroke="#1e1e1e" stroke-width="1.0"/>
<line x1="370.50" y1="264.60" x2="375.70" y2="264.60" stroke="#1e1e1e" stroke-width="1.0"/>
<line x1="366.90" y1="253.80" x2="379.30" y2="253.80" stroke="#1e1e1e" stroke-width="1.25"/>
<circle cx="373.50" cy="241.00" r="1.8" fill="none" stroke="#3DB54A" stroke-width="1.15"/>
<circle cx="370.00" cy="244.80" r="1.8" fill="none" stroke="#3DB54A" stroke-width="1.15"/>
<circle cx="376.90" cy="244.80" r="1.8" fill="none" stroke="#3DB54A" stroke-width="1.15"/>
<circle cx="371.90" cy="248.70" r="1.8" fill="none" stroke="#3DB54A" stroke-width="1.15"/>
<circle cx="375.40" cy="247.70" r="1.8" fill="none" stroke="#3DB54A" stroke-width="1.15"/>
<circle cx="370.60" cy="260.20" r="1.8" fill="none" stroke="#3DB54A" stroke-width="1.15"/>
<circle cx="379.60" cy="260.80" r="1.8" fill="none" stroke="#3DB54A" stroke-width="1.15"/>
<circle cx="370.60" cy="269.20" r="1.8" fill="none" stroke="#3DB54A" stroke-width="1.15"/>
<circle cx="376.30" cy="266.50" r="1.8" fill="none" stroke="#3DB54A" stroke-width="1.15"/>
<line x1="391.50" y1="266.30" x2="391.50" y2="294.00" stroke="#555" stroke-width="1.25"/>
<line x1="388.90" y1="266.30" x2="394.10" y2="266.30" stroke="#555" stroke-width="1.0"/>
<line x1="388.90" y1="294.00" x2="394.10" y2="294.00" stroke="#555" stroke-width="1.0"/>
<line x1="385.30" y1="283.30" x2="397.70" y2="283.30" stroke="#555" stroke-width="1.25"/>
<circle cx="391.70" cy="249.60" r="2.35" fill="#3DB54A"/>
<circle cx="391.70" cy="280.80" r="2.35" fill="#3DB54A"/>
<circle cx="388.80" cy="291.90" r="2.35" fill="#3DB54A"/>
<circle cx="394.60" cy="290.40" r="2.35" fill="#3DB54A"/>
<circle cx="391.70" cy="292.50" r="2.35" fill="#3DB54A"/>
<line x1="448.30" y1="131.20" x2="448.30" y2="142.20" stroke="#1e1e1e" stroke-width="1.25"/>
<line x1="445.70" y1="131.20" x2="450.90" y2="131.20" stroke="#1e1e1e" stroke-width="1.0"/>
<line x1="445.70" y1="142.20" x2="450.90" y2="142.20" stroke="#1e1e1e" stroke-width="1.0"/>
<line x1="442.10" y1="136.90" x2="454.50" y2="136.90" stroke="#1e1e1e" stroke-width="1.25"/>
<circle cx="444.40" cy="132.20" r="1.8" fill="none" stroke="#D0103A" stroke-width="1.15"/>
<circle cx="447.20" cy="134.80" r="1.8" fill="none" stroke="#D0103A" stroke-width="1.15"/>
<circle cx="451.50" cy="134.00" r="1.8" fill="none" stroke="#D0103A" stroke-width="1.15"/>
<circle cx="449.40" cy="136.90" r="1.8" fill="none" stroke="#D0103A" stroke-width="1.15"/>
<circle cx="448.00" cy="146.10" r="1.8" fill="none" stroke="#D0103A" stroke-width="1.15"/>
<line x1="466.05" y1="137.30" x2="466.05" y2="151.50" stroke="#1e1e1e" stroke-width="1.25"/>
<line x1="463.45" y1="137.30" x2="468.65" y2="137.30" stroke="#1e1e1e" stroke-width="1.0"/>
<line x1="463.45" y1="151.50" x2="468.65" y2="151.50" stroke="#1e1e1e" stroke-width="1.0"/>
<line x1="459.85" y1="144.00" x2="472.25" y2="144.00" stroke="#1e1e1e" stroke-width="1.25"/>
<circle cx="468.20" cy="135.90" r="2.35" fill="#D0103A"/>
<circle cx="463.30" cy="140.20" r="2.35" fill="#D0103A"/>
<circle cx="465.70" cy="140.40" r="2.35" fill="#D0103A"/>
<circle cx="463.30" cy="151.50" r="2.35" fill="#D0103A"/>
<circle cx="468.60" cy="151.50" r="2.35" fill="#D0103A"/>
<line x1="483.80" y1="126.20" x2="483.80" y2="142.60" stroke="#1e1e1e" stroke-width="1.25"/>
<line x1="481.20" y1="126.20" x2="486.40" y2="126.20" stroke="#1e1e1e" stroke-width="1.0"/>
<line x1="481.20" y1="142.60" x2="486.40" y2="142.60" stroke="#1e1e1e" stroke-width="1.0"/>
<line x1="477.60" y1="134.80" x2="490.00" y2="134.80" stroke="#1e1e1e" stroke-width="1.25"/>
<circle cx="483.50" cy="118.00" r="1.8" fill="none" stroke="#1C5C9A" stroke-width="1.15"/>
<circle cx="480.70" cy="131.60" r="1.8" fill="none" stroke="#1C5C9A" stroke-width="1.15"/>
<circle cx="486.40" cy="131.60" r="1.8" fill="none" stroke="#1C5C9A" stroke-width="1.15"/>
<circle cx="483.50" cy="134.50" r="1.8" fill="none" stroke="#1C5C9A" stroke-width="1.15"/>
<circle cx="480.70" cy="138.70" r="1.8" fill="none" stroke="#1C5C9A" stroke-width="1.15"/>
<circle cx="486.40" cy="140.40" r="1.8" fill="none" stroke="#1C5C9A" stroke-width="1.15"/>
<circle cx="483.80" cy="145.00" r="1.8" fill="none" stroke="#1C5C9A" stroke-width="1.15"/>
<line x1="501.55" y1="150.10" x2="501.55" y2="150.70" stroke="#1e1e1e" stroke-width="1.25"/>
<line x1="498.95" y1="150.10" x2="504.15" y2="150.10" stroke="#1e1e1e" stroke-width="1.0"/>
<line x1="498.95" y1="150.70" x2="504.15" y2="150.70" stroke="#1e1e1e" stroke-width="1.0"/>
<line x1="495.35" y1="150.40" x2="507.75" y2="150.40" stroke="#1e1e1e" stroke-width="1.25"/>
<circle cx="501.30" cy="146.90" r="2.35" fill="#1C5C9A"/>
<circle cx="497.70" cy="150.10" r="2.35" fill="#1C5C9A"/>
<circle cx="504.90" cy="150.10" r="2.35" fill="#1C5C9A"/>
<circle cx="501.30" cy="152.50" r="2.35" fill="#1C5C9A"/>
<circle cx="499.90" cy="155.40" r="2.35" fill="#1C5C9A"/>
<circle cx="503.50" cy="153.50" r="2.35" fill="#1C5C9A"/>
<line x1="448.30" y1="236.30" x2="448.30" y2="251.60" stroke="#1e1e1e" stroke-width="1.25"/>
<line x1="445.70" y1="236.30" x2="450.90" y2="236.30" stroke="#1e1e1e" stroke-width="1.0"/>
<line x1="445.70" y1="251.60" x2="450.90" y2="251.60" stroke="#1e1e1e" stroke-width="1.0"/>
<line x1="442.10" y1="244.20" x2="454.50" y2="244.20" stroke="#1e1e1e" stroke-width="1.25"/>
<circle cx="444.80" cy="233.00" r="1.8" fill="none" stroke="#D0103A" stroke-width="1.15"/>
<circle cx="450.70" cy="237.50" r="1.8" fill="none" stroke="#D0103A" stroke-width="1.15"/>
<circle cx="444.80" cy="246.70" r="1.8" fill="none" stroke="#D0103A" stroke-width="1.15"/>
<circle cx="450.70" cy="248.10" r="1.8" fill="none" stroke="#D0103A" stroke-width="1.15"/>
<circle cx="448.20" cy="252.60" r="1.8" fill="none" stroke="#D0103A" stroke-width="1.15"/>
<line x1="466.05" y1="248.70" x2="466.05" y2="276.80" stroke="#1e1e1e" stroke-width="1.25"/>
<line x1="463.45" y1="248.70" x2="468.65" y2="248.70" stroke="#1e1e1e" stroke-width="1.0"/>
<line x1="463.45" y1="276.80" x2="468.65" y2="276.80" stroke="#1e1e1e" stroke-width="1.0"/>
<line x1="459.85" y1="262.40" x2="472.25" y2="262.40" stroke="#1e1e1e" stroke-width="1.25"/>
<circle cx="465.90" cy="240.80" r="2.35" fill="#D0103A"/>
<circle cx="469.00" cy="259.10" r="2.35" fill="#D0103A"/>
<circle cx="462.50" cy="261.50" r="2.35" fill="#D0103A"/>
<circle cx="465.90" cy="270.90" r="2.35" fill="#D0103A"/>
<circle cx="465.90" cy="277.60" r="2.35" fill="#D0103A"/>
<line x1="483.80" y1="248.70" x2="483.80" y2="269.70" stroke="#1e1e1e" stroke-width="1.25"/>
<line x1="481.20" y1="248.70" x2="486.40" y2="248.70" stroke="#1e1e1e" stroke-width="1.0"/>
<line x1="481.20" y1="269.70" x2="486.40" y2="269.70" stroke="#1e1e1e" stroke-width="1.0"/>
<line x1="477.60" y1="259.50" x2="490.00" y2="259.50" stroke="#1e1e1e" stroke-width="1.25"/>
<circle cx="483.20" cy="245.70" r="1.8" fill="none" stroke="#1C5C9A" stroke-width="1.15"/>
<circle cx="480.80" cy="250.60" r="1.8" fill="none" stroke="#1C5C9A" stroke-width="1.15"/>
<circle cx="486.10" cy="252.60" r="1.8" fill="none" stroke="#1C5C9A" stroke-width="1.15"/>
<circle cx="483.20" cy="255.20" r="1.8" fill="none" stroke="#1C5C9A" stroke-width="1.15"/>
<circle cx="480.20" cy="262.40" r="1.8" fill="none" stroke="#1C5C9A" stroke-width="1.15"/>
<circle cx="486.70" cy="265.40" r="1.8" fill="none" stroke="#1C5C9A" stroke-width="1.15"/>
<circle cx="483.20" cy="277.20" r="1.8" fill="none" stroke="#1C5C9A" stroke-width="1.15"/>
<line x1="501.55" y1="259.10" x2="501.55" y2="293.50" stroke="#1e1e1e" stroke-width="1.25"/>
<line x1="498.95" y1="259.10" x2="504.15" y2="259.10" stroke="#1e1e1e" stroke-width="1.0"/>
<line x1="498.95" y1="293.50" x2="504.15" y2="293.50" stroke="#1e1e1e" stroke-width="1.0"/>
<line x1="495.35" y1="277.20" x2="507.75" y2="277.20" stroke="#1e1e1e" stroke-width="1.25"/>
<circle cx="501.30" cy="251.60" r="2.35" fill="#1C5C9A"/>
<circle cx="498.50" cy="259.10" r="2.35" fill="#1C5C9A"/>
<circle cx="504.40" cy="261.90" r="2.35" fill="#1C5C9A"/>
<circle cx="498.50" cy="290.00" r="2.35" fill="#1C5C9A"/>
<circle cx="504.80" cy="288.60" r="2.35" fill="#1C5C9A"/>
<circle cx="501.30" cy="291.90" r="2.35" fill="#1C5C9A"/>
<circle cx="497.30" cy="292.00" r="2.35" fill="#1C5C9A"/>
<circle cx="503.50" cy="292.00" r="2.35" fill="#1C5C9A"/>
</svg></body></html>
